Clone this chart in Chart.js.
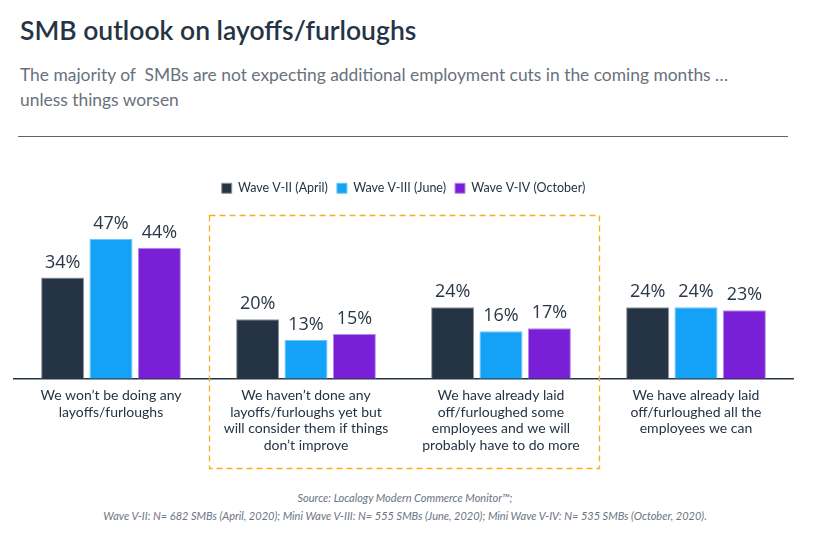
<!DOCTYPE html>
<html>
<head>
<meta charset="utf-8">
<script src="https://cdn.jsdelivr.net/npm/chart.js@4.4.1/dist/chart.umd.min.js"></script>
<style>
  html, body { margin: 0; padding: 0; background: #fff; }
  body { width: 830px; height: 538px; position: relative; overflow: hidden; font-family: Lato, "Open Sans", sans-serif; }
  #title { position: absolute; left: 20px; top: 14px; font-size: 26.5px; font-weight: 600; color: #253445; letter-spacing: 0px; }
  #sub { position: absolute; left: 20px; top: 62px; font-size: 17.4px; color: #68717c; line-height: 25px; }
  #rule { position: absolute; left: 18px; top: 136px; width: 770px; height: 0; border-top: 1.5px solid #5b6370; }
  #wrap { position: absolute; left: 0; top: 160px; width: 830px; height: 320px; }
  #foot { position: absolute; left: 0; width: 810px; top: 489px; text-align: center; font-size: 11px; font-style: italic; color: #6b7480; line-height: 18px; }
</style>
</head>
<body>
<div id="title">SMB outlook on layoffs/furloughs</div>
<div id="sub">The majority of &nbsp;SMBs are not expecting additional employment cuts in the coming months …<br>unless things worsen</div>
<div id="rule"></div>
<div id="wrap"><canvas id="c"></canvas></div>
<div id="foot">Source: Localogy Modern Commerce Monitor™;<br>Wave V-II: N= 682 SMBs (April, 2020); Mini Wave V-III: N= 555 SMBs (June, 2020); Mini Wave V-IV: N= 535 SMBs (October, 2020).</div>
<script>
const categories = [
  ["We won’t be doing any", "layoffs/furloughs"],
  ["We haven’t done any", "layoffs/furloughs yet but", "will consider them if things", "don’t improve"],
  ["We have already laid", "off/furloughed some", "employees and we will", "probably have to do more"],
  ["We have already laid", "off/furloughed all the", "employees we can"]
];
const seriesNames = ["Wave V-II (April)", "Wave V-III (June)", "Wave V-IV (October)"];
const waveApril = [34, 20, 24, 24];
const waveJune = [47, 13, 16, 24];
const waveOctober = [44, 15, 17, 23];
const highlightedCategories = [1, 2];

const colors = ["#253445", "#14a2f6", "#7a1fd8"];
const borders = ["#8d949c", "#6cc4f8", "#b58be8"];
const textColor = "#253445";

const valueLabels = {
  id: "valueLabels",
  afterDatasetsDraw(chart) {
    const ctx = chart.ctx;
    ctx.save();
    ctx.font = '18px "Open Sans", sans-serif';
    ctx.fillStyle = "#2a3747";
    ctx.textAlign = "center";
    ctx.textBaseline = "bottom";
    chart.data.datasets.forEach((ds, i) => {
      chart.getDatasetMeta(i).data.forEach((bar, j) => {
        ctx.fillText(ds.data[j] + "%", bar.x, bar.y - 6);
      });
    });
    ctx.restore();
  }
};

const highlightBox = {
  id: "highlightBox",
  afterDraw(chart) {
    const x = chart.scales.x;
    const area = chart.chartArea;
    const catW = x.getPixelForValue(1) - x.getPixelForValue(0);
    const left = x.getPixelForValue(highlightedCategories[0]) - catW / 2;
    const right = x.getPixelForValue(highlightedCategories[highlightedCategories.length - 1]) + catW / 2;
    const top = area.bottom - 164;
    const bottom = area.bottom + 89;
    const ctx = chart.ctx;
    ctx.save();
    ctx.strokeStyle = "#f2b01f";
    ctx.lineWidth = 1.3;
    ctx.setLineDash([6, 4]);
    ctx.strokeRect(Math.round(left) + 0.5, Math.round(top) + 0.5, Math.round(right - left), Math.round(bottom - top));
    ctx.restore();
  }
};

new Chart(document.getElementById("c"), {
  type: "bar",
  data: {
    labels: categories,
    datasets: [
      { label: seriesNames[0], data: waveApril, backgroundColor: colors[0], borderColor: borders[0], borderWidth: 1 },
      { label: seriesNames[1], data: waveJune, backgroundColor: colors[1], borderColor: borders[1], borderWidth: 1 },
      { label: seriesNames[2], data: waveOctober, backgroundColor: colors[2], borderColor: borders[2], borderWidth: 1 }
    ]
  },
  options: {
    responsive: true,
    maintainAspectRatio: false,
    animation: false,
    events: [],
    layout: { padding: { left: 13.5, right: 36.5, top: 13, bottom: 18 } },
    datasets: { bar: { categoryPercentage: 0.744, barPercentage: 0.89 } },
    plugins: {
      legend: {
        display: true,
        position: "top",
        labels: {
          boxWidth: 10, boxHeight: 10, padding: 9,
          color: textColor,
          font: { family: "Lato", size: 12.5 },
          useBorderRadius: false
        }
      },
      tooltip: { enabled: false },
      title: { display: false }
    },
    scales: {
      x: {
        offset: true,
        grid: { display: false, drawTicks: false },
        border: { display: true, color: "#253445", width: 1.5 },
        ticks: {
          color: textColor, padding: 8, maxRotation: 0, autoSkip: false,
          font: { family: "Lato", size: 14, lineHeight: 1.2 }
        }
      },
      y: { display: false, min: 0, max: 58.5 }
    }
  },
  plugins: [valueLabels, highlightBox]
});
</script>
</body>
</html>
